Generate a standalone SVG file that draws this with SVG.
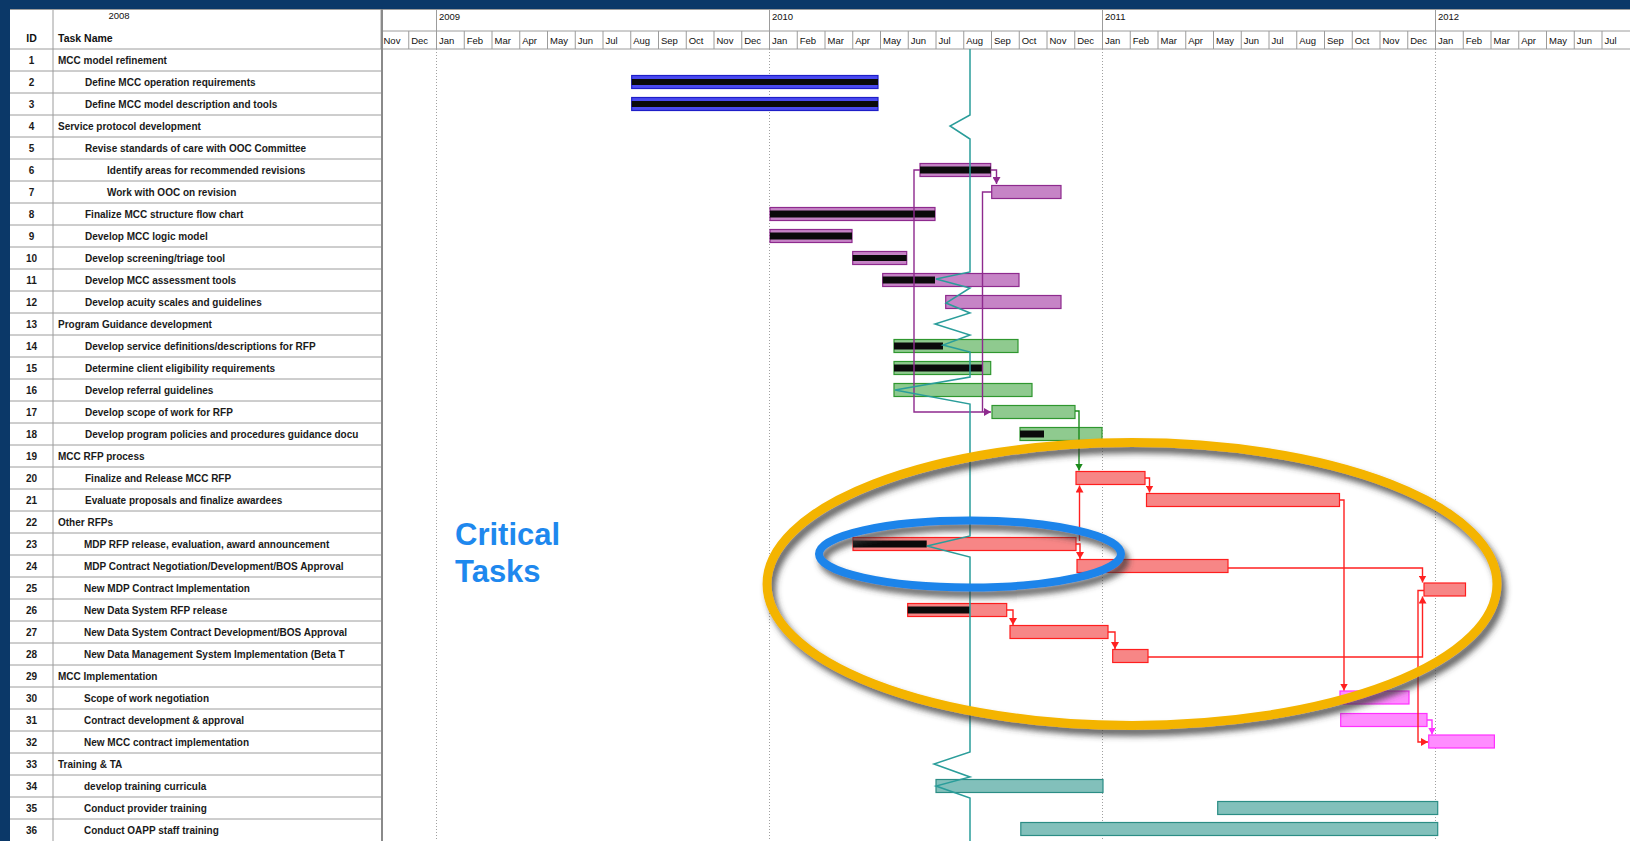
<svg xmlns="http://www.w3.org/2000/svg" width="1630" height="841" viewBox="0 0 1630 841">
<style>
  .frame { fill: #0b3868; }
  .grid { stroke: #9c9c9c; stroke-width: 1; fill: none; }
  .gridb { stroke: #8a8a8a; stroke-width: 2; fill: none; }
  .yr { stroke: #a0a0a0; stroke-width: 1; stroke-dasharray: 1 2; fill: none; }
  .t { font-family: "Liberation Sans", Arial, sans-serif; font-size: 10px; font-weight: bold; fill: #1a1a1a; }
  .id { font-family: "Liberation Sans", Arial, sans-serif; font-size: 10px; font-weight: bold; fill: #1a1a1a; text-anchor: middle; }
  .hd { font-family: "Liberation Sans", Arial, sans-serif; font-size: 10.5px; font-weight: bold; fill: #111; }
  .mo { font-family: "Liberation Sans", Arial, sans-serif; font-size: 9.5px; fill: #111; }
  .b-blue { fill: #4a4af0; stroke: #1e1ec8; stroke-width: 1.2; }
  .b-purple { fill: #c684c6; stroke: #8e2a8e; stroke-width: 1.2; }
  .b-green { fill: #8fca8f; stroke: #2f972f; stroke-width: 1.2; }
  .b-red { fill: #f78686; stroke: #ff1e1e; stroke-width: 1.2; }
  .b-mag { fill: #ff8cff; stroke: #ff30ff; stroke-width: 1.2; }
  .b-teal { fill: #82c0bb; stroke: #2b8d85; stroke-width: 1.2; }
  .prog { fill: #0a0a0a; }
  .c-purple { stroke: #8e2a8e; stroke-width: 1.4; fill: none; }
  .c-green { stroke: #1b8a1b; stroke-width: 1.4; fill: none; }
  .c-red { stroke: #ff2020; stroke-width: 1.4; fill: none; }
  .c-mag { stroke: #ff30ff; stroke-width: 1.4; fill: none; }
  .status { stroke: #2a9d9a; stroke-width: 1.5; fill: none; }
  .label { font-family: "Liberation Sans", Arial, sans-serif; font-size: 31px; font-weight: bold; fill: #1e88ee; }
</style>
<defs>
  <marker id="ah-purple" markerUnits="userSpaceOnUse" markerWidth="8" markerHeight="8" refX="7" refY="4" orient="auto"><path d="M0,0 L7,4 L0,8 z" fill="#8e2a8e"/></marker>
  <marker id="ah-green" markerUnits="userSpaceOnUse" markerWidth="8" markerHeight="8" refX="7" refY="4" orient="auto"><path d="M0,0 L7,4 L0,8 z" fill="#1b8a1b"/></marker>
  <marker id="ah-red" markerUnits="userSpaceOnUse" markerWidth="8" markerHeight="8" refX="7" refY="4" orient="auto"><path d="M0,0 L7,4 L0,8 z" fill="#ff2020"/></marker>
  <marker id="ah-mag" markerUnits="userSpaceOnUse" markerWidth="8" markerHeight="8" refX="7" refY="4" orient="auto"><path d="M0,0 L7,4 L0,8 z" fill="#ff30ff"/></marker>
  <filter id="drop" x="-10%" y="-30%" width="125%" height="160%">
    <feGaussianBlur in="SourceAlpha" stdDeviation="3" result="b"/>
    <feOffset in="b" dx="4" dy="6" result="o"/>
    <feFlood flood-color="#383838" flood-opacity="0.8"/>
    <feComposite in2="o" operator="in" result="s"/>
    <feMerge><feMergeNode in="s"/><feMergeNode in="SourceGraphic"/></feMerge>
  </filter>
</defs>

<!-- page -->
<rect width="1630" height="841" fill="#ffffff"/>
<rect class="frame" x="0" y="0" width="1630" height="9"/>
<rect class="frame" x="0" y="0" width="10" height="841"/>

<!-- timescale header -->
<g id="timescale">
  <path class="grid" d="M10,9.5 H1630 M382,31 H1630 M10,49 H1630"/>
  <path class="grid" d="M381,9 V49 M436.5,9 V49 M769.5,9 V49 M1102.5,9 V49 M1435.5,9 V49"/>
  <path class="grid" d="M408.75,31V49 M464.25,31V49 M492,31V49 M519.75,31V49 M547.5,31V49 M575.25,31V49 M603,31V49 M630.75,31V49 M658.5,31V49 M686.25,31V49 M714,31V49 M741.75,31V49 M797.25,31V49 M825,31V49 M852.75,31V49 M880.5,31V49 M908.25,31V49 M936,31V49 M963.75,31V49 M991.5,31V49 M1019.25,31V49 M1047,31V49 M1074.75,31V49 M1130.25,31V49 M1158,31V49 M1185.75,31V49 M1213.5,31V49 M1241.25,31V49 M1269,31V49 M1296.75,31V49 M1324.5,31V49 M1352.25,31V49 M1380,31V49 M1407.75,31V49 M1463.25,31V49 M1491,31V49 M1518.75,31V49 M1546.5,31V49 M1574.25,31V49 M1602,31V49"/>
  <g class="mo">
    <text x="439" y="20">2009</text>
    <text x="772" y="20">2010</text>
    <text x="1105" y="20">2011</text>
    <text x="1438" y="20">2012</text>
    <text x="383.5" y="44">Nov</text><text x="411.2" y="44">Dec</text>
    <text x="439" y="44">Jan</text><text x="466.7" y="44">Feb</text><text x="494.5" y="44">Mar</text><text x="522.2" y="44">Apr</text><text x="550" y="44">May</text><text x="577.7" y="44">Jun</text><text x="605.5" y="44">Jul</text><text x="633.2" y="44">Aug</text><text x="661" y="44">Sep</text><text x="688.7" y="44">Oct</text><text x="716.5" y="44">Nov</text><text x="744.2" y="44">Dec</text>
    <text x="772" y="44">Jan</text><text x="799.7" y="44">Feb</text><text x="827.5" y="44">Mar</text><text x="855.2" y="44">Apr</text><text x="883" y="44">May</text><text x="910.7" y="44">Jun</text><text x="938.5" y="44">Jul</text><text x="966.2" y="44">Aug</text><text x="994" y="44">Sep</text><text x="1021.7" y="44">Oct</text><text x="1049.5" y="44">Nov</text><text x="1077.2" y="44">Dec</text>
    <text x="1105" y="44">Jan</text><text x="1132.7" y="44">Feb</text><text x="1160.5" y="44">Mar</text><text x="1188.2" y="44">Apr</text><text x="1216" y="44">May</text><text x="1243.7" y="44">Jun</text><text x="1271.5" y="44">Jul</text><text x="1299.2" y="44">Aug</text><text x="1327" y="44">Sep</text><text x="1354.7" y="44">Oct</text><text x="1382.5" y="44">Nov</text><text x="1410.2" y="44">Dec</text>
    <text x="1438" y="44">Jan</text><text x="1465.7" y="44">Feb</text><text x="1493.5" y="44">Mar</text><text x="1521.2" y="44">Apr</text><text x="1549" y="44">May</text><text x="1576.7" y="44">Jun</text><text x="1604.5" y="44">Jul</text>
  </g>
  <!-- year gridlines through the chart body -->
  <path class="yr" d="M436.5,49 V841 M769.5,49 V841 M1102.5,49 V841 M1435.5,49 V841"/>
</g>

<!-- task table frame -->
<g id="table">
  <text class="mo" x="119" y="19" text-anchor="middle">2008</text>
  <text class="hd" x="31.5" y="42" text-anchor="middle">ID</text>
  <text class="hd" x="58" y="42">Task Name</text>
  <path class="grid" d="M10,71H382 M10,93H382 M10,115H382 M10,137H382 M10,159H382 M10,181H382 M10,203H382 M10,225H382 M10,247H382 M10,269H382 M10,291H382 M10,313H382 M10,335H382 M10,357H382 M10,379H382 M10,401H382 M10,423H382 M10,445H382 M10,467H382 M10,489H382 M10,511H382 M10,533H382 M10,555H382 M10,577H382 M10,599H382 M10,621H382 M10,643H382 M10,665H382 M10,687H382 M10,709H382 M10,731H382 M10,753H382 M10,775H382 M10,797H382 M10,819H382"/>
  <path class="grid" d="M53,9 V841"/>
  <path class="gridb" d="M382,9 V841"/>
</g>

<!-- tasks -->
<g id="task-1"><text class="id" x="31.5" y="64">1</text><text class="t" x="58" y="64">MCC model refinement</text></g>
<g id="task-2"><text class="id" x="31.5" y="86">2</text><text class="t" x="85" y="86">Define MCC operation requirements</text>
  <rect class="b-blue" x="631.7" y="75.5" width="246.3" height="13"/><rect class="prog" x="631.7" y="79" width="246.3" height="6"/></g>
<g id="task-3"><text class="id" x="31.5" y="108">3</text><text class="t" x="85" y="108">Define MCC model description and tools</text>
  <rect class="b-blue" x="631.7" y="97.5" width="246.3" height="13"/><rect class="prog" x="631.7" y="101" width="246.3" height="6"/></g>
<g id="task-4"><text class="id" x="31.5" y="130">4</text><text class="t" x="58" y="130">Service protocol development</text></g>
<g id="task-5"><text class="id" x="31.5" y="152">5</text><text class="t" x="85" y="152">Revise standards of care with OOC Committee</text></g>
<g id="task-6"><text class="id" x="31.5" y="174">6</text><text class="t" x="107" y="174">Identify areas for recommended revisions</text>
  <rect class="b-purple" x="920" y="163.5" width="70.7" height="13"/><rect class="prog" x="920" y="166.5" width="70.7" height="7"/></g>
<g id="task-7"><text class="id" x="31.5" y="196">7</text><text class="t" x="107" y="196">Work with OOC on revision</text>
  <rect class="b-purple" x="991.7" y="185.5" width="69.3" height="13"/></g>
<g id="task-8"><text class="id" x="31.5" y="218">8</text><text class="t" x="85" y="218">Finalize MCC structure flow chart</text>
  <rect class="b-purple" x="770" y="207.5" width="165" height="13"/><rect class="prog" x="770" y="210.5" width="165" height="7"/></g>
<g id="task-9"><text class="id" x="31.5" y="240">9</text><text class="t" x="85" y="240">Develop MCC logic model</text>
  <rect class="b-purple" x="770" y="229.5" width="82" height="13"/><rect class="prog" x="770" y="232.5" width="82" height="7"/></g>
<g id="task-10"><text class="id" x="31.5" y="262">10</text><text class="t" x="85" y="262">Develop screening/triage tool</text>
  <rect class="b-purple" x="852.7" y="251.5" width="54" height="13"/><rect class="prog" x="852.7" y="255" width="54" height="6"/></g>
<g id="task-11"><text class="id" x="31.5" y="284">11</text><text class="t" x="85" y="284">Develop MCC assessment tools</text>
  <rect class="b-purple" x="882.7" y="273.5" width="136.3" height="13"/><rect class="prog" x="882.7" y="276.5" width="52.3" height="7"/></g>
<g id="task-12"><text class="id" x="31.5" y="306">12</text><text class="t" x="85" y="306">Develop acuity scales and guidelines</text>
  <rect class="b-purple" x="945.7" y="295.5" width="115.3" height="13"/></g>
<g id="task-13"><text class="id" x="31.5" y="328">13</text><text class="t" x="58" y="328">Program Guidance development</text></g>
<g id="task-14"><text class="id" x="31.5" y="350">14</text><text class="t" x="85" y="350">Develop service definitions/descriptions for RFP</text>
  <rect class="b-green" x="894" y="339.5" width="124" height="13"/><rect class="prog" x="894" y="342.5" width="49" height="7"/></g>
<g id="task-15"><text class="id" x="31.5" y="372">15</text><text class="t" x="85" y="372">Determine client eligibility requirements</text>
  <rect class="b-green" x="894" y="361.5" width="96.7" height="13"/><rect class="prog" x="894" y="364.5" width="89" height="7"/></g>
<g id="task-16"><text class="id" x="31.5" y="394">16</text><text class="t" x="85" y="394">Develop referral guidelines</text>
  <rect class="b-green" x="894" y="383.5" width="138" height="13"/></g>
<g id="task-17"><text class="id" x="31.5" y="416">17</text><text class="t" x="85" y="416">Develop scope of work for RFP</text>
  <rect class="b-green" x="992" y="405.5" width="83" height="13"/></g>
<g id="task-18"><text class="id" x="31.5" y="438">18</text><text class="t" x="85" y="438">Develop program policies and procedures guidance docu</text>
  <rect class="b-green" x="1020" y="427.5" width="82" height="13"/><rect class="prog" x="1020" y="430.5" width="24" height="7"/></g>
<g id="task-19"><text class="id" x="31.5" y="460">19</text><text class="t" x="58" y="460">MCC RFP process</text></g>
<g id="task-20"><text class="id" x="31.5" y="482">20</text><text class="t" x="85" y="482">Finalize and Release MCC RFP</text>
  <rect class="b-red" x="1076" y="471.5" width="69" height="13"/></g>
<g id="task-21"><text class="id" x="31.5" y="504">21</text><text class="t" x="85" y="504">Evaluate proposals and finalize awardees</text>
  <rect class="b-red" x="1146.5" y="493.5" width="193" height="13"/></g>
<g id="task-22"><text class="id" x="31.5" y="526">22</text><text class="t" x="58" y="526">Other RFPs</text></g>
<g id="task-23"><text class="id" x="31.5" y="548">23</text><text class="t" x="84" y="548">MDP RFP release, evaluation, award announcement</text>
  <rect class="b-red" x="853" y="537.5" width="223" height="13"/><rect class="prog" x="853" y="540.5" width="73.7" height="7"/></g>
<g id="task-24"><text class="id" x="31.5" y="570">24</text><text class="t" x="84" y="570">MDP Contract Negotiation/Development/BOS Approval</text>
  <rect class="b-red" x="1077" y="559.5" width="151" height="13"/></g>
<g id="task-25"><text class="id" x="31.5" y="592">25</text><text class="t" x="84" y="592">New MDP Contract Implementation</text>
  <rect class="b-red" x="1424" y="583" width="41.5" height="13"/></g>
<g id="task-26"><text class="id" x="31.5" y="614">26</text><text class="t" x="84" y="614">New Data System RFP release</text>
  <rect class="b-red" x="907.7" y="603.5" width="99" height="13"/><rect class="prog" x="907.7" y="606.5" width="62.3" height="7"/></g>
<g id="task-27"><text class="id" x="31.5" y="636">27</text><text class="t" x="84" y="636">New Data System Contract Development/BOS Approval</text>
  <rect class="b-red" x="1010" y="625.5" width="98" height="13"/></g>
<g id="task-28"><text class="id" x="31.5" y="658">28</text><text class="t" x="84" y="658">New Data Management System Implementation (Beta T</text>
  <rect class="b-red" x="1112.7" y="649.5" width="35.3" height="13"/></g>
<g id="task-29"><text class="id" x="31.5" y="680">29</text><text class="t" x="58" y="680">MCC Implementation</text></g>
<g id="task-30"><text class="id" x="31.5" y="702">30</text><text class="t" x="84" y="702">Scope of work negotiation</text>
  <rect class="b-mag" x="1340" y="691" width="69" height="13"/></g>
<g id="task-31"><text class="id" x="31.5" y="724">31</text><text class="t" x="84" y="724">Contract development &amp; approval</text>
  <rect class="b-mag" x="1340.7" y="713.5" width="86.3" height="13"/></g>
<g id="task-32"><text class="id" x="31.5" y="746">32</text><text class="t" x="84" y="746">New MCC contract implementation</text>
  <rect class="b-mag" x="1428.7" y="735" width="65.7" height="13"/></g>
<g id="task-33"><text class="id" x="31.5" y="768">33</text><text class="t" x="58" y="768">Training &amp; TA</text></g>
<g id="task-34"><text class="id" x="31.5" y="790">34</text><text class="t" x="84" y="790">develop training curricula</text>
  <rect class="b-teal" x="936" y="779.5" width="167" height="13"/></g>
<g id="task-35"><text class="id" x="31.5" y="812">35</text><text class="t" x="84" y="812">Conduct provider training</text>
  <rect class="b-teal" x="1217.7" y="801.5" width="220" height="13"/></g>
<g id="task-36"><text class="id" x="31.5" y="834">36</text><text class="t" x="84" y="834">Conduct OAPP staff training</text>
  <rect class="b-teal" x="1020.8" y="822.5" width="416.9" height="13"/></g>

<!-- task dependency links -->
<g id="connectors">
  <path class="c-purple" d="M990.7,170 H996.5 V184" marker-end="url(#ah-purple)"/>
  <path class="c-purple" d="M920,170 H914 V412 H991" marker-end="url(#ah-purple)"/>
  <path class="c-purple" d="M991.7,192 H982.5 V412"/>
  <path class="c-green" d="M1075,411 H1079 V470.5" marker-end="url(#ah-green)"/>
  <path class="c-red" d="M1145,478 H1149.5 V492.5" marker-end="url(#ah-red)"/>
  <path class="c-red" d="M1076,544 H1080 V559" marker-end="url(#ah-red)"/>
  <path class="c-red" d="M1079.5,541 V485.5" marker-end="url(#ah-red)"/>
  <path class="c-red" d="M1339.5,500 H1344 V690.5" marker-end="url(#ah-red)"/>
  <path class="c-red" d="M1228,568 H1422.5 V582.5" marker-end="url(#ah-red)"/>
  <path class="c-red" d="M1006.7,610 H1013 V625" marker-end="url(#ah-red)"/>
  <path class="c-red" d="M1108,632 H1115 V649" marker-end="url(#ah-red)"/>
  <path class="c-red" d="M1148,657 H1422.5 V596.5" marker-end="url(#ah-red)"/>
  <path class="c-red" d="M1424,590.5 H1418 V742 H1428" marker-end="url(#ah-red)"/>
  <path class="c-mag" d="M1427,720 H1432 V734.5" marker-end="url(#ah-mag)"/>
</g>

<!-- status date progress line -->
<path id="progress-line" class="status" d="M970,49 V115 L950,126 L970,139 V272 L936,279 L970,288 L946,303 L970,313 L935,324 L970,335 L943,345 L970,352 V377 L895,390 L970,404 V536 L927,546 L970,557 V752 L934,764 L970,777 L936,786 L970,798 V841"/>

<!-- highlight callouts -->
<g id="critical-callout">
  <ellipse cx="1132" cy="584" rx="365" ry="141.5" fill="none" stroke="#f4b400" stroke-width="9" filter="url(#drop)"/>
  <ellipse cx="970" cy="554" rx="151" ry="33.5" fill="none" stroke="#1c84ea" stroke-width="8" filter="url(#drop)"/>
  <text class="label" x="455" y="545">Critical</text>
  <text class="label" x="455" y="582">Tasks</text>
</g>
</svg>
